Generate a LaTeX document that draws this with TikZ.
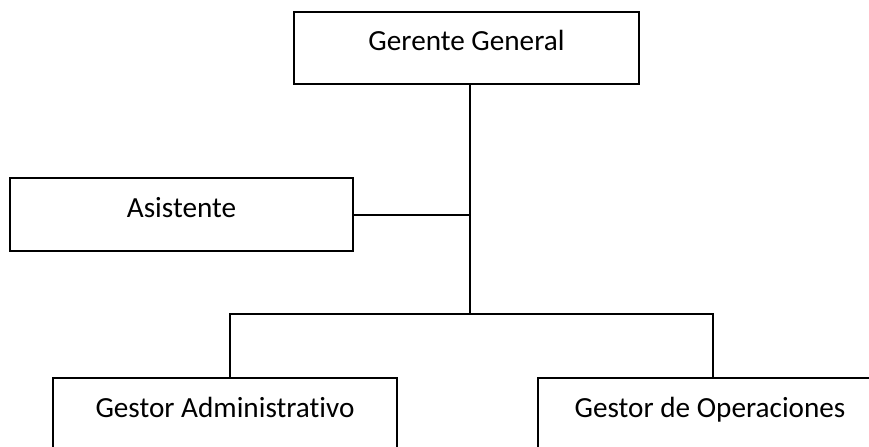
\documentclass[tikz,border=0pt]{standalone}
\usepackage{fontspec}
\setmainfont{Carlito}[Ligatures={NoCommon}]
\usetikzlibrary{calc}
\tikzset{
   cargo/.style = {draw, line width=1pt, anchor=north west, inner sep=0pt,
      font=\fontsize{14.6}{17}\selectfont, text height=0.7em, text depth=0.45em,
      minimum height=36.5pt},
   enlace/.style = {line width=1pt}
}
\begin{document}
\begin{tikzpicture}[x=0.5pt, y=-0.5pt]
		% Frame
		\clip (0,0) rectangle (869,446);
		
		% Boxes
		\node[cargo, minimum width=172.5pt, minimum height=36pt] (gerente) at (293,11) {Gerente General};
		\node[cargo, minimum width=171.5pt] (asistente) at (9,177) {Asistente};
		\node[cargo, minimum width=172pt] (admin) at (52,377) {Gestor Administrativo};
		\node[cargo, minimum width=172pt] (operaciones) at (537,377) {Gestor de Operaciones};
		
		% Bar
		\coordinate (barL) at (230,314);
		\coordinate (barR) at (713,314);
		\coordinate (barM) at (470,314);
		
		% Lines
		\draw[enlace] (gerente.south -| barM) -- (barM);
		\draw[enlace] (asistente.east) -- (asistente.east -| barM);
		\draw[enlace] (admin.north -| barL) -- (barL) -- (barR) -- (operaciones.north -| barR);
	\end{tikzpicture}
\end{document}
